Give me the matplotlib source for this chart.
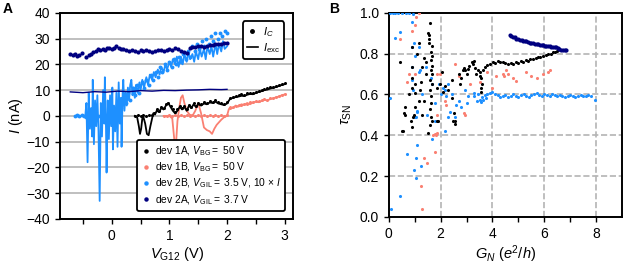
import numpy as np
import matplotlib
matplotlib.use('Agg')
from matplotlib import pyplot as plt
from matplotlib.lines import Line2D

plt.rcParams['font.family'] = ['Liberation Sans', 'DejaVu Sans']
plt.rcParams['mathtext.fontset'] = 'custom'
plt.rcParams['mathtext.rm'] = 'Liberation Sans'
plt.rcParams['mathtext.it'] = 'Liberation Sans:italic'
plt.rcParams['mathtext.bf'] = 'Liberation Sans:bold'

BLACK = '#000000'
SALMON = '#fa8072'
BLUE = '#1e90ff'
NAVY = '#000080'

# ---- panel A data: gate voltage (V) vs current (nA) ----
navy_dot_v = [-0.72, -0.68, -0.64, -0.60, -0.56, -0.52, -0.45, -0.40, -0.36, -0.32,
              -0.28, -0.24, -0.20, -0.16, -0.12, -0.08, -0.04, 0.0, 0.04, 0.08,
              0.12, 0.16, 0.20, 0.25, 0.30, 0.35, 0.40, 0.45, 0.50, 0.55,
              0.60, 0.65, 0.70, 0.75, 0.80, 0.85, 0.90, 0.95, 1.00, 1.05,
              1.10, 1.15, 1.20, 1.25, 1.30, 1.35, 1.40, 1.45, 1.50, 1.55,
              1.60, 1.65, 1.70, 1.75, 1.80, 1.85, 1.90, 1.95, 2.00]
navy_dot_i = [24.0, 23.5, 24.0, 23.2, 23.8, 24.5, 22.8, 23.5, 24.2, 24.8,
              25.2, 25.8, 25.5, 26.0, 25.6, 26.2, 26.4, 25.9, 26.3, 27.1,
              26.5, 25.8, 26.1, 25.5, 25.2, 25.6, 25.0, 24.6, 25.4, 25.1,
              25.7, 25.3, 24.8, 25.2, 25.7, 25.4, 25.0, 25.5, 26.1, 25.6,
              26.4, 25.8, 25.2, 24.9, 24.4, 26.2, 26.8, 26.6, 27.0, 27.3,
              26.9, 27.2, 27.5, 27.4, 27.8, 28.0, 27.9, 28.3, 28.4]
navy_line_v = [-0.72, -0.5, -0.3, -0.1, 0.1, 0.3, 0.5, 0.7, 0.9, 1.1, 1.3, 1.5, 1.7, 1.9, 2.0]
navy_line_i = [9.3, 9.0, 9.4, 9.2, 9.6, 9.4, 9.8, 9.6, 9.9, 9.8, 10.0, 10.1, 10.3, 10.2, 10.3]

blue_line_v = [-0.62, -0.55, -0.50, -0.46, -0.44, -0.42, -0.40, -0.38, -0.36, -0.34,
               -0.33, -0.31, -0.29, -0.27, -0.25, -0.23, -0.21, -0.19, -0.17, -0.15,
               -0.13, -0.12, -0.10, -0.09, -0.07, -0.05, -0.03, -0.01, 0.01, 0.02,
               0.04, 0.06, 0.08, 0.10, 0.12, 0.14, 0.16, 0.17, 0.19, 0.20,
               0.22, 0.24, 0.26, 0.28, 0.30, 0.32, 0.34, 0.36, 0.38, 0.40,
               0.42, 0.45, 0.48, 0.50, 0.53, 0.56, 0.60, 0.63, 0.66, 0.70,
               0.73, 0.76, 0.80, 0.83, 0.86, 0.90, 0.93, 0.96, 1.00, 1.03,
               1.06, 1.10, 1.13, 1.16, 1.20, 1.23, 1.26, 1.30, 1.33, 1.36,
               1.40, 1.43, 1.46, 1.50, 1.53, 1.56, 1.60, 1.63, 1.66, 1.70,
               1.73, 1.76, 1.80, 1.83, 1.86, 1.90, 1.93, 1.96, 2.00]
blue_line_i = [0, 0, 0, 0, 5, -18, 9, -5, 3, -8,
               14, -11, 6, -4, 8, -6, -33, 5, -8, 10,
               -3, 15, -5, -22, 6, -9, 8, -4, 11, -13,
               4, -6, 9, -12, 13, -3, 7, -12, 10, 14,
               2, 9, 4, 11, 6, 12, 14, 8, 11, 7,
               12, 9, 13, 10, 14, 11, 15, 12, 16, 14,
               17, 15, 18, 16, 19, 17, 20, 18, 21, 19,
               22, 20, 23, 19, 23, 20, 24, 21, 25, 22,
               24, 21, 25, 22, 26, 23, 26, 22, 27, 24,
               27, 23, 28, 24, 28, 25, 29, 26, 27]
blue_dot_v = [-0.64, -0.60, -0.56, -0.52, -0.48, -0.44, -0.40, -0.36, -0.32, -0.28,
              -0.24, -0.20, -0.16, -0.12, -0.08, -0.04, 0.0, 0.04, 0.08, 0.12,
              0.16, 0.20, 0.24, 0.28, 0.32, 0.36, 0.40, 0.44, 0.48, 0.52,
              0.56, 0.60, 0.64, 0.68, 0.72, 0.76, 0.80, 0.84, 0.88, 0.92,
              0.96, 1.00, 1.04, 1.08, 1.12, 1.16, 1.20, 1.24, 1.28, 1.32,
              1.36, 1.40, 1.44, 1.48, 1.52, 1.56, 1.60, 1.64, 1.68, 1.72,
              1.76, 1.80, 1.84, 1.88, 1.92, 1.96, 2.00]
blue_dot_i = [0.0, 0.3, -0.2, 0.2, 0.0, -0.3, 0.2, 0.0, 0.3, -0.2,
              0.1, 0.0, 0.3, -0.1, 0.2, 0.0, 0.4, 0.1, 0.6, 1.5,
              3.0, 4.5, 5, 9, 6, 11, 8, 12, 9, 13,
              11, 14, 12, 16, 14, 17, 15, 19, 17, 20,
              18, 21, 19, 22, 20, 23, 21, 24, 22, 25,
              23, 27, 25, 28, 26, 29, 27, 30, 28, 31,
              29, 32, 30, 32, 31, 33, 32]

black_line_v = [0.40, 0.44, 0.47, 0.49, 0.51, 0.53, 0.55, 0.58, 0.61, 0.64,
                0.67, 0.70, 0.72, 0.75, 0.78, 0.82, 0.86, 0.90, 0.94, 0.98,
                1.02, 1.06, 1.10, 1.14, 1.18, 1.22, 1.26, 1.30, 1.34, 1.38,
                1.42, 1.46, 1.50, 1.55, 1.60, 1.65, 1.70, 1.75, 1.80, 1.85,
                1.90, 1.95, 2.00, 2.05, 2.10, 2.15, 2.20, 2.25, 2.30, 2.35,
                2.40, 2.45, 2.50, 2.55, 2.60, 2.65, 2.70, 2.75, 2.80, 2.85,
                2.90, 2.95, 3.00]
black_line_i = [0, -0.5, -4, -7, -5, -1, -0.5, -3, -7, -7.5,
                -4, -1, 1, 0.5, 2, 1.5, 3, 2.5, 4, 5,
                3.5, 2, 1, 2, 3.5, 2.5, 3.5, 2, 4, 3,
                4.5, 3.5, 4.5, 4, 4.8, 4.5, 5.2, 5, 5.5, 4.8,
                4.5, 4.2, 4.8, 6.5, 7, 7.3, 7.5, 7.8, 7.7, 8.2,
                8.5, 8.4, 8.9, 9.3, 9.6, 10.0, 10.2, 10.6, 10.9, 11.2,
                11.6, 12.0, 12.3]
black_dot_v = [0.40, 0.45, 0.50, 0.55, 0.60, 0.65, 0.70, 0.74, 0.78, 0.82,
               0.86, 0.90, 0.94, 0.98, 1.02, 1.06, 1.10, 1.14, 1.18, 1.22,
               1.26, 1.30, 1.34, 1.38, 1.42, 1.46, 1.50, 1.55, 1.60, 1.65,
               1.70, 1.75, 1.80, 1.85, 1.90, 1.95, 2.00, 2.05, 2.10, 2.15,
               2.20, 2.25, 2.30, 2.35, 2.40, 2.45, 2.50, 2.55, 2.60, 2.65,
               2.70, 2.75, 2.80, 2.85, 2.90, 2.95, 3.00]
black_dot_i = [0, 0.2, 0, 0.3, 0, 0.2, 0.5, 1, 2.5, 2,
               3.5, 3, 4.5, 5, 3.8, 2.5, 1.5, 2.5, 4, 3,
               4, 2.5, 4.3, 3.5, 5, 4, 5, 4.5, 5.3, 5,
               5.7, 5.5, 6, 5.3, 5, 4.6, 5.2, 7, 7.5, 7.8,
               8, 8.3, 8.2, 8.7, 9, 8.9, 9.4, 9.8, 10.1, 10.5,
               10.7, 11.1, 11.4, 11.7, 12.1, 12.5, 12.8]

salmon_line_v = [0.90, 0.95, 1.00, 1.05, 1.08, 1.10, 1.12, 1.14, 1.17, 1.20,
                 1.23, 1.26, 1.30, 1.35, 1.40, 1.45, 1.50, 1.55, 1.60, 1.65,
                 1.70, 1.74, 1.78, 1.82, 1.86, 1.90, 1.95, 2.00, 2.03, 2.06,
                 2.10, 2.15, 2.20, 2.25, 2.30, 2.35, 2.40, 2.45, 2.50, 2.55,
                 2.60, 2.65, 2.70, 2.75, 2.80, 2.85, 2.90, 2.95, 3.00]
salmon_line_i = [0, 0, 0, -1, -8, -13, -9, -2, 3, 7,
                 8, 5, 2, 0.5, 0, 2, 5, 1, -4.5, -5.5,
                 -6, -7, -5, -3.5, -2.5, -1.5, -0.5, 0, 2.5, 3.5,
                 3, 4, 3.6, 4.5, 4.2, 5, 4.5, 5.2, 5.5, 5.3,
                 5.8, 6.2, 6, 6.5, 6.8, 7.2, 7.5, 8, 8.3]
salmon_dot_v = [0.90, 0.95, 1.00, 1.05, 1.10, 1.15, 1.20, 1.25, 1.30, 1.35,
                1.40, 1.45, 1.50, 1.55, 1.60, 1.65, 1.70, 1.75, 1.80, 1.85,
                1.90, 1.95, 2.00, 2.05, 2.10, 2.15, 2.20, 2.25, 2.30, 2.35,
                2.40, 2.45, 2.50, 2.55, 2.60, 2.65, 2.70, 2.75, 2.80, 2.85,
                2.90, 2.95, 3.00]
salmon_dot_i = [0, 0, 0.2, 0, 0.3, 0, 0.2, 0, 0.3, 0,
                0.2, 0, 0.3, 0, 0.2, 0, 0.3, 0, 0.2, 0,
                0.3, 0, 0.5, 3, 3.5, 3.8, 4.2, 4.3, 4.8, 4.7,
                5.2, 5.4, 5.7, 5.6, 6.1, 6.4, 6.3, 6.8, 7.1, 7.4,
                7.8, 8.2, 8.6]

# ---- panel B data: (G_N in e^2/h, tau_SN) ----
black_pts = np.array([
    (1.59, 0.95), (1.52, 0.90), (1.55, 0.89), (1.57, 0.87), (1.55, 0.85), (1.65, 0.835),
    (1.63, 0.81), (1.65, 0.79), (1.64, 0.77), (1.65, 0.74), (1.63, 0.72), (1.65, 0.70),
    (1.60, 0.67), (1.65, 0.65), (1.60, 0.62), (1.62, 0.59), (1.63, 0.56), (1.60, 0.53),
    (1.62, 0.49), (1.65, 0.47), (1.58, 0.45), (1.52, 0.41),
    (0.45, 0.76), (0.90, 0.83), (1.15, 0.85), (1.09, 0.80), (0.90, 0.735), (0.90, 0.68),
    (1.00, 0.65), (0.90, 0.63), (1.00, 0.605), (1.15, 0.57), (1.00, 0.54), (0.64, 0.54),
    (0.58, 0.51), (0.90, 0.44), (0.55, 0.42), (1.30, 0.735), (1.36, 0.78), (1.42, 0.76),
    (1.42, 0.70), (1.36, 0.57), (1.30, 0.50), (0.63, 0.50), (0.95, 0.49), (0.99, 0.50),
    (0.86, 0.47), (0.50, 0.42), (1.85, 0.47), (1.90, 0.47), (2.48, 0.47), (2.55, 0.455),
    (1.20, 0.62), (1.25, 0.66), (0.80, 0.60),
    (1.86, 0.63), (1.98, 0.65), (2.05, 0.71), (2.10, 0.61), (2.18, 0.64), (2.30, 0.62),
    (2.44, 0.67), (2.44, 0.58), (2.50, 0.51), (2.56, 0.47), (2.69, 0.70), (2.75, 0.65),
    (2.90, 0.73), (2.95, 0.72), (3.07, 0.725), (3.20, 0.76), (3.25, 0.75), (3.30, 0.765),
    (3.33, 0.73), (3.38, 0.70), (3.46, 0.72), (3.50, 0.71), (3.52, 0.69), (3.57, 0.68),
    (3.59, 0.65), (3.57, 0.63), (3.57, 0.61), (3.65, 0.72), (2.87, 0.72), (3.00, 0.70),
    (3.10, 0.74), (2.80, 0.68),
    (3.70, 0.735), (3.80, 0.745), (3.90, 0.75), (4.02, 0.76), (4.10, 0.755), (4.20, 0.765),
    (4.30, 0.76), (4.41, 0.76), (4.50, 0.755), (4.60, 0.75), (4.70, 0.755), (4.79, 0.75),
    (4.90, 0.76), (5.00, 0.755), (5.10, 0.765), (5.18, 0.76), (5.28, 0.77), (5.38, 0.765),
    (5.46, 0.775), (5.56, 0.775), (5.66, 0.78), (5.76, 0.785), (5.85, 0.785), (5.95, 0.79),
    (6.05, 0.795), (6.15, 0.80), (6.24, 0.80), (6.33, 0.81), (6.42, 0.81), (6.50, 0.815),
    (6.59, 0.817)])

salmon_pts = np.array([
    (1.15, 0.997), (1.05, 0.98), (0.90, 0.91), (1.00, 0.94), (0.45, 0.87), (0.77, 0.70),
    (0.71, 0.66), (1.00, 0.70), (1.86, 0.70), (1.98, 0.70), (2.56, 0.75), (2.69, 0.69),
    (3.14, 0.65), (2.90, 0.51), (2.95, 0.50), (2.15, 0.57), (1.86, 0.50), (4.00, 0.63),
    (1.78, 0.405), (1.82, 0.40), (1.72, 0.40), (1.86, 0.41), (1.78, 0.32), (1.35, 0.29),
    (1.46, 0.265), (1.23, 0.15), (1.30, 0.036), (3.51, 0.66), (3.77, 0.71), (4.14, 0.69),
    (4.45, 0.69), (4.52, 0.72), (4.79, 0.68), (4.92, 0.665), (5.31, 0.71), (5.50, 0.69),
    (5.70, 0.68), (5.95, 0.70), (6.14, 0.71), (6.20, 0.72), (4.60, 0.70), (4.40, 0.70),
    (2.20, 0.55)])

blue_pts = np.array([
    (0.05, 1.0), (0.15, 1.0), (0.25, 1.0), (0.35, 1.0), (0.50, 1.0), (0.65, 1.0),
    (0.80, 1.0), (0.95, 0.995),
    (0.06, 0.58), (0.26, 0.875), (0.45, 0.905), (0.90, 0.955), (0.96, 0.85), (0.90, 0.83),
    (1.15, 0.83), (1.00, 0.79), (0.90, 0.735), (0.90, 0.67), (1.15, 0.71), (1.42, 0.735),
    (1.09, 0.52), (1.00, 0.49), (1.61, 0.68), (1.67, 0.65), (1.92, 0.65), (2.10, 0.63),
    (2.18, 0.62), (2.30, 0.65), (1.80, 0.56), (1.48, 0.50), (2.44, 0.60), (2.69, 0.57),
    (2.95, 0.62), (3.07, 0.59), (3.27, 0.605), (3.40, 0.57), (1.10, 0.515), (1.06, 0.49),
    (2.29, 0.49), (2.37, 0.515), (2.55, 0.49), (1.78, 0.47), (2.18, 0.42), (1.65, 0.38),
    (1.10, 0.35), (0.69, 0.307), (1.06, 0.29), (1.23, 0.25), (0.97, 0.23), (1.06, 0.19),
    (0.45, 0.10), (0.07, 0.04), (1.20, 0.72), (1.30, 0.60), (0.95, 0.62), (2.00, 0.60),
    (2.20, 0.59), (2.60, 0.55), (2.80, 0.54), (3.00, 0.56),
    (3.30, 0.59), (3.45, 0.60), (3.50, 0.575), (3.55, 0.565), (3.60, 0.585), (3.65, 0.575),
    (3.70, 0.595), (3.75, 0.58), (3.80, 0.60), (3.90, 0.605), (4.00, 0.61), (4.10, 0.60),
    (4.20, 0.595), (4.30, 0.585), (4.40, 0.59), (4.50, 0.595), (4.60, 0.585), (4.70, 0.59),
    (4.80, 0.60), (4.90, 0.59), (5.00, 0.585), (5.10, 0.595), (5.20, 0.60), (5.30, 0.59),
    (5.40, 0.585), (5.50, 0.595), (5.60, 0.60), (5.70, 0.605), (5.80, 0.595), (5.90, 0.59),
    (6.00, 0.60), (6.10, 0.595), (6.20, 0.59), (6.30, 0.60), (6.40, 0.595), (6.50, 0.59),
    (6.60, 0.595), (6.70, 0.59), (6.80, 0.585), (6.90, 0.59), (7.00, 0.595), (7.10, 0.59),
    (7.20, 0.585), (7.30, 0.59), (7.40, 0.595), (7.50, 0.59), (7.60, 0.59), (7.70, 0.595),
    (7.80, 0.59), (7.94, 0.575)])

navy_pts = np.array([
    (4.66, 0.89), (4.72, 0.885), (4.78, 0.88), (4.85, 0.88), (4.92, 0.872), (4.98, 0.87),
    (5.05, 0.867), (5.12, 0.865), (5.18, 0.862), (5.25, 0.86), (5.31, 0.86), (5.38, 0.855),
    (5.44, 0.852), (5.50, 0.85), (5.57, 0.85), (5.63, 0.847), (5.70, 0.845), (5.76, 0.845),
    (5.83, 0.842), (5.90, 0.84), (5.95, 0.84), (6.02, 0.838), (6.08, 0.837), (6.14, 0.836),
    (6.20, 0.837), (6.27, 0.833), (6.33, 0.832), (6.40, 0.83), (6.46, 0.83), (6.52, 0.826),
    (6.58, 0.823), (6.65, 0.82), (6.72, 0.82), (6.78, 0.82), (6.84, 0.82)])

dev_labels = [r'dev 1A, $V_{\mathrm{BG}} =$ 50 V',
              r'dev 1B, $V_{\mathrm{BG}} =$ 50 V',
              r'dev 2B, $V_{\mathrm{GIL}} =$ 3.5 V, 10 $\times$ $I$',
              r'dev 2A, $V_{\mathrm{GIL}} =$ 3.7 V']
dev_colors = [BLACK, SALMON, BLUE, NAVY]

fig = plt.figure(figsize=(6.24, 2.67), dpi=100)
axA = fig.add_axes([0.096, 0.18, 0.374, 0.772])
axB = fig.add_axes([0.623, 0.188, 0.374, 0.764])

# ---- panel A ----
for y in range(-40, 41, 10):
    axA.axhline(y, color='#b4b4b4', lw=1.2, zorder=0)
lw = 1.3
ms = 2.2
axA.plot(salmon_line_v, salmon_line_i, color=SALMON, lw=lw, zorder=2)
axA.plot(salmon_dot_v, salmon_dot_i, 'o', color=SALMON, ms=ms, mew=0, zorder=2)
axA.plot(black_line_v, black_line_i, color=BLACK, lw=lw, zorder=3)
axA.plot(black_dot_v, black_dot_i, 'o', color=BLACK, ms=ms, mew=0, zorder=3)
axA.plot(blue_line_v, blue_line_i, color=BLUE, lw=lw, zorder=4)
axA.plot(blue_dot_v, blue_dot_i, 'o', color=BLUE, ms=ms + 0.6, mew=0, zorder=4)
axA.plot(navy_line_v, navy_line_i, color=NAVY, lw=1.0, zorder=5)
axA.plot(navy_dot_v, navy_dot_i, 'o', color=NAVY, ms=ms + 0.8, mew=0, zorder=5)

axA.set_xlim(-0.9, 3.15)
axA.set_ylim(-40, 40)
axA.set_xticks([0, 1, 2, 3])
axA.set_xticks([-0.5, 0.5, 1.5, 2.5], minor=True)
axA.set_yticks(range(-40, 41, 10))
axA.set_xlabel(r'$V_{\mathrm{G12}}$ (V)', fontsize=10.5, labelpad=2)
axA.set_ylabel(r'$I$ (nA)', fontsize=10.5, labelpad=1)

h1 = [Line2D([], [], marker='o', ls='none', color=BLACK, ms=2.5),
      Line2D([], [], color=BLACK, lw=1.2)]
leg1 = axA.legend(h1, [r'$I_C$', r'$I_{\mathrm{exc}}$'], loc='upper right',
                  fontsize=8, frameon=True, handlelength=1.0, handletextpad=0.5,
                  borderpad=0.35, labelspacing=0.2, bbox_to_anchor=(0.985, 0.985))
h2 = [Line2D([], [], marker='o', ls='none', color=c, ms=2.2) for c in dev_colors]
leg2 = axA.legend(h2, dev_labels, loc='lower right', fontsize=7.4, frameon=True,
                  handlelength=0.9, handletextpad=0.4, borderpad=0.4,
                  labelspacing=0.25, bbox_to_anchor=(0.985, 0.015))
axA.add_artist(leg1)
for leg in (leg1, leg2):
    leg.get_frame().set_edgecolor('black')
    leg.get_frame().set_linewidth(1.3)
    leg.get_frame().set_alpha(1)

# ---- panel B ----
s = 5
axB.scatter(blue_pts[:, 0], blue_pts[:, 1], s=s, color=BLUE, lw=0, zorder=3)
axB.scatter(salmon_pts[:, 0], salmon_pts[:, 1], s=s, color=SALMON, lw=0, zorder=3)
axB.scatter(black_pts[:, 0], black_pts[:, 1], s=s, color=BLACK, lw=0, zorder=4)
axB.scatter(navy_pts[:, 0], navy_pts[:, 1], s=s + 4, color=NAVY, lw=0, zorder=4)
axB.set_xlim(0, 9)
axB.set_ylim(0, 1)
axB.set_xticks([0, 2, 4, 6, 8])
axB.set_xticks([1, 3, 5, 7], minor=True)
axB.set_yticks([0.0, 0.2, 0.4, 0.6, 0.8, 1.0])
axB.set_yticklabels(['0.0', '0.2', '0.4', '0.6', '0.8', '1.0'])
axB.grid(True, which='major', ls='--', color='#b4b4b4', lw=1.2, zorder=0)
axB.set_axisbelow(True)
axB.set_xlabel(r'$G_N$ ($e^2/h$)', fontsize=10.5, labelpad=2)
axB.set_ylabel(r'$\tau_{\mathrm{SN}}$', fontsize=10.5, labelpad=4)

for ax in (axA, axB):
    for sp in ax.spines.values():
        sp.set_linewidth(1.4)
    ax.tick_params(which='both', direction='out', labelsize=10, width=1.0)
    ax.tick_params(which='major', length=3.5)
    ax.tick_params(which='minor', length=3.5)

fig.text(0.005, 0.95, 'A', fontsize=10, fontweight='bold')
fig.text(0.528, 0.95, 'B', fontsize=10, fontweight='bold')

fig.savefig('out.png', dpi=100)
